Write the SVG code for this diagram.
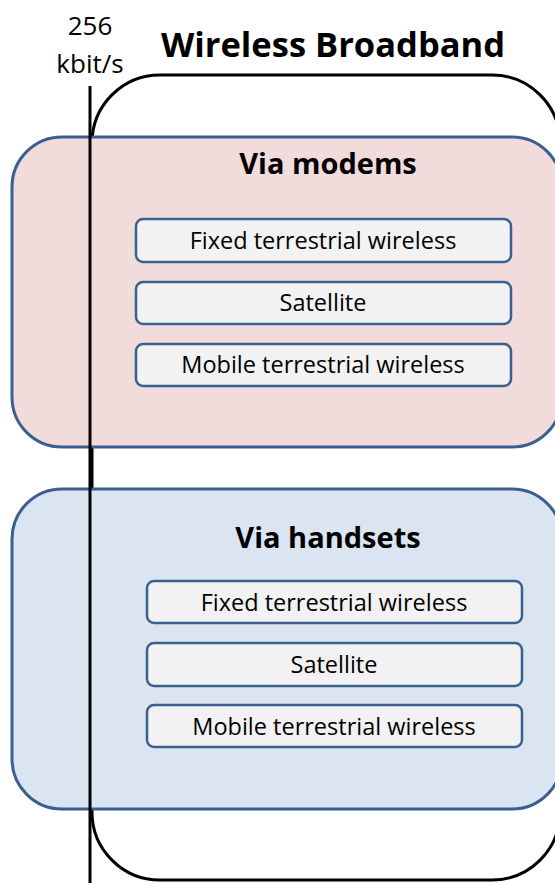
<svg xmlns="http://www.w3.org/2000/svg" width="555" height="883" viewBox="0 0 555 883">
<style>
.grp{stroke:#3B5F8E;stroke-width:3}
.item{fill:#F2F2F2;stroke:#3B5F8E;stroke-width:2.5}
.t{font-family:"Open Sans","Liberation Sans",sans-serif;fill:#000}
.it{font-size:23.5px;text-anchor:middle}
.h{font-size:29px;font-weight:bold;text-anchor:middle}
</style>
<rect width="555" height="883" fill="#fff"/>
<g id="wireless-broadband">
<rect x="92" y="75" width="468" height="805" rx="68" fill="none" stroke="#000" stroke-width="3"/>
<text class="t" x="333" y="57" font-size="34.5" font-weight="bold" text-anchor="middle">Wireless Broadband</text>
</g>
<g id="via-modems">
<rect class="grp" x="12" y="137" width="550" height="310" rx="50" fill="#F2DCDB"/>
<text class="t h" x="328" y="174">Via modems</text>
</g>
<g id="m-fixed"><rect class="item" x="136" y="219" width="375" height="43" rx="7"/><text class="t it" x="323" y="249">Fixed terrestrial wireless</text></g>
<g id="m-sat"><rect class="item" x="136" y="282" width="375" height="42" rx="7"/><text class="t it" x="323" y="311">Satellite</text></g>
<g id="m-mobile"><rect class="item" x="136" y="344" width="375" height="42" rx="7"/><text class="t it" x="323" y="373">Mobile terrestrial wireless</text></g>
<g id="via-handsets">
<rect class="grp" x="12" y="489" width="550" height="320" rx="50" fill="#DBE5F1"/>
<text class="t h" x="328" y="548">Via handsets</text>
</g>
<g id="h-fixed"><rect class="item" x="147" y="581" width="375" height="42" rx="7"/><text class="t it" x="334" y="611">Fixed terrestrial wireless</text></g>
<g id="h-sat"><rect class="item" x="147" y="643" width="375" height="43" rx="7"/><text class="t it" x="334" y="673">Satellite</text></g>
<g id="h-mobile"><rect class="item" x="147" y="705" width="375" height="42" rx="7"/><text class="t it" x="334" y="735">Mobile terrestrial wireless</text></g>
<g id="threshold">
<line x1="90" y1="86" x2="90" y2="883" stroke="#000" stroke-width="3"/>
<text class="t" x="90" y="35" font-size="26" text-anchor="middle">256</text>
<text class="t" x="90" y="73" font-size="26" text-anchor="middle">kbit/s</text>
</g>
</svg>
